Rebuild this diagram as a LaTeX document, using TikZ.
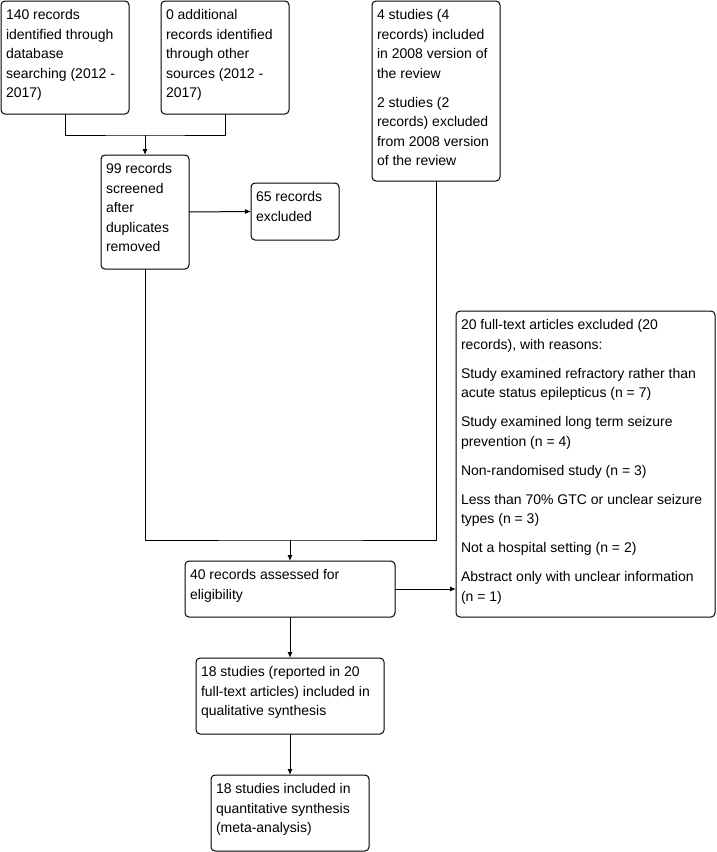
\documentclass[tikz,border=0pt]{standalone}
\usepackage{fontspec}
\setmainfont{Liberation Sans}
\usepackage{tikz}
\usetikzlibrary{positioning, arrows.meta, calc}

\newcommand{\stagetext}[3]{\parbox[t][#2][t]{#1}{\raggedright\strut #3}}

\tikzset{
  stagebox/.style={draw, line width=1pt, rounded corners=4pt, anchor=north west,
    inner sep=5pt, outer sep=0pt, font=\fontsize{14}{19.5}\selectfont},
  flow/.style={line width=1pt},
  flowarrow/.style={line width=1pt, -{Latex[length=6pt,width=5pt]}}
}

\begin{document}
\begin{tikzpicture}[x=1pt, y=-1pt]
    \useasboundingbox (0,0) rectangle (716,852);
    \node[stagebox] (dbsearch) at (1,1) {\stagetext{118pt}{103pt}{140 records\\identified through\\database\\searching (2012 -\\2017)}};
    \node[stagebox] (othersrc) at (161,1) {\stagetext{118pt}{103pt}{0 additional\\records identified\\through other\\sources (2012 -\\2017)}};
    \node[stagebox] (oldreview) at (372,1) {\stagetext{118pt}{170pt}{4 studies (4\\records) included\\in 2008 version of\\the review\\[9.5pt]\strut 2 studies (2\\records) excluded\\from 2008 version\\of the review}};
    \node[stagebox] (screened) at (101,155) {\stagetext{78pt}{104pt}{99 records\\screened\\after\\duplicates\\removed}};
    \node[stagebox] (excl) at (251,183) {\stagetext{78pt}{47pt}{65 records\\excluded}};
    \node[stagebox] (ftexcl) at (456,311) {\stagetext{249pt}{296pt}{20 full-text articles excluded (20\\records), with reasons:\\[9.5pt]\strut Study examined refractory rather than\\acute status epilepticus (n = 7)\\[9.5pt]\strut Study examined long term seizure\\prevention (n = 4)\\[9.5pt]\strut Non-randomised study (n = 3)\\[9.5pt]\strut Less than 70\% GTC or unclear seizure\\types (n = 3)\\[9.5pt]\strut Not a hospital setting (n = 2)\\[9.5pt]\strut Abstract only with unclear information\\(n = 1)}};
    \node[stagebox] (elig) at (185,561) {\stagetext{200pt}{46pt}{40 records assessed for\\eligibility}};
    \node[stagebox] (qual) at (196,658) {\stagetext{178pt}{66pt}{18 studies (reported in 20\\full-text articles) included in\\qualitative synthesis}};
    \node[stagebox] (quant) at (211,775) {\stagetext{148pt}{66pt}{18 studies included in\\quantitative synthesis\\(meta-analysis)}};

    \coordinate (mergetop) at (145,135);
    \coordinate (mergelow) at (290,540);

    \draw[flow] (dbsearch.south) |- (mergetop) -| (othersrc.south);
    \draw[flowarrow] (mergetop) -- (screened.north);
    \draw[flowarrow] (screened.east) -- (excl.west);
    \draw[flow] (screened.south) |- (mergelow) -| (oldreview.south);
    \draw[flowarrow] (mergelow) -- (elig.north);
    \draw[flowarrow] (elig.east) -- (elig.east -| ftexcl.west);
    \draw[flowarrow] (elig.south) -- (qual.north);
    \draw[flowarrow] (qual.south) -- (quant.north);
  \end{tikzpicture}
\end{document}
